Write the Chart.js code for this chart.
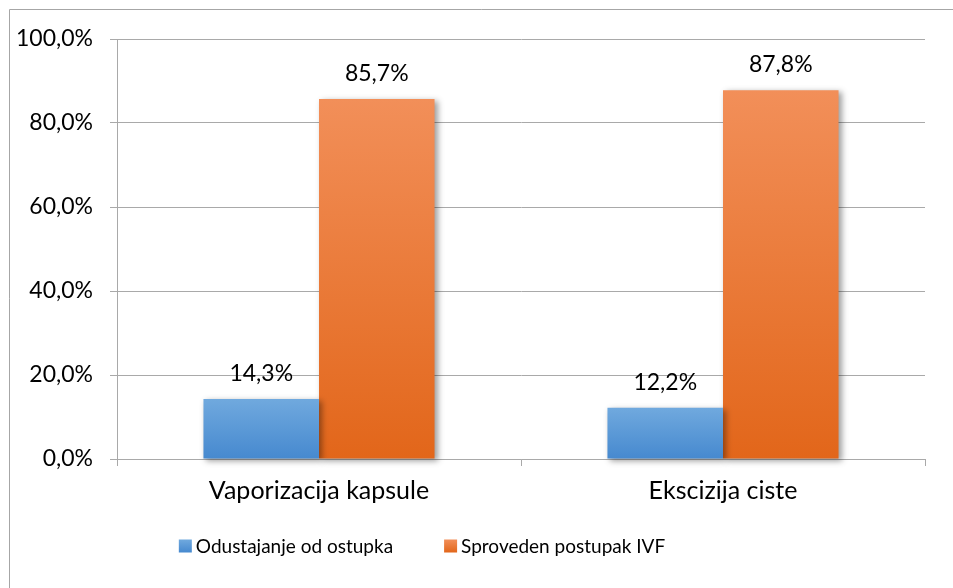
<!DOCTYPE html>
<html>
<head>
<meta charset="utf-8">
<script src="https://cdn.jsdelivr.net/npm/chart.js@4.4.1/dist/chart.umd.min.js"></script>
<style>
  html, body { margin: 0; padding: 0; background: #fff; }
  canvas { display: block; }
</style>
</head>
<body>
<canvas id="ivf-chart" width="953" height="588"></canvas>
<script>
const categories = ['Vaporizacija kapsule', 'Ekscizija ciste'];
const seriesNames = ['Odustajanje od ostupka', 'Sproveden postupak IVF'];
const odustajanje = [14.3, 12.2];
const sproveden = [85.7, 87.8];
const yMin = 0, yMax = 100, yStep = 20;

// light (top) -> dark (bottom) per series
const fills = [
  ['#70a9de', '#4689cf'],
  ['#f28f59', '#e2661a']
];

const FONT = 'Lato, "Open Sans", sans-serif';
const TEXT = '#000000';
const LINE = '#a9a9a9';

function fmt(v) {
  return v.toFixed(1).replace('.', ',') + '%';
}

// vertical gradient spanning each bar from its top down to the baseline
function barFill(i) {
  return function (ctx) {
    const chart = ctx.chart;
    if (!chart.chartArea || ctx.type !== 'data') return fills[i][1];
    const y = chart.scales.y;
    const top = y.getPixelForValue(ctx.raw);
    const base = y.getPixelForValue(0);
    const g = chart.ctx.createLinearGradient(0, top, 0, base);
    g.addColorStop(0, fills[i][0]);
    g.addColorStop(1, fills[i][1]);
    return g;
  };
}

const frame = {
  id: 'frame',
  beforeDraw(chart) {
    const c = chart.ctx;
    c.save();
    c.strokeStyle = '#a6a6a6';
    c.lineWidth = 1;
    c.beginPath();
    c.moveTo(9.5, chart.height);
    c.lineTo(9.5, 9.5);
    c.lineTo(chart.width, 9.5);
    c.stroke();
    c.restore();
  }
};

const barShadow = {
  id: 'barShadow',
  beforeDatasetsDraw(chart) {
    const c = chart.ctx;
    c.save();
    c.shadowColor = 'rgba(0,0,0,0.38)';
    c.shadowBlur = 6;
    c.shadowOffsetX = 3;
    c.shadowOffsetY = 2;
  },
  afterDatasetsDraw(chart) {
    chart.ctx.restore();
  }
};

const valueLabels = {
  id: 'valueLabels',
  afterDraw(chart) {
    const c = chart.ctx;
    c.save();
    c.font = '23px ' + FONT;
    c.fillStyle = TEXT;
    c.textAlign = 'center';
    c.textBaseline = 'alphabetic';
    chart.data.datasets.forEach((ds, di) => {
      chart.getDatasetMeta(di).data.forEach((bar, i) => {
        c.fillText(fmt(ds.data[i]), bar.x, bar.y - 18);
      });
    });
    c.restore();
  }
};

const legendRow = {
  id: 'legendRow',
  afterDraw(chart) {
    const c = chart.ctx;
    const box = 13, gap = 4, spacing = 51, cx = 422, cy = 546;
    c.save();
    c.font = '19px ' + FONT;
    c.textBaseline = 'middle';
    c.textAlign = 'left';
    const widths = chart.data.datasets.map(ds => c.measureText(ds.label).width);
    const total = widths.reduce((a, w) => a + box + gap + w, 0) + spacing * (widths.length - 1);
    let x = cx - total / 2;
    chart.data.datasets.forEach((ds, i) => {
      const g = c.createLinearGradient(0, cy - box / 2, 0, cy + box / 2);
      g.addColorStop(0, fills[i][0]);
      g.addColorStop(1, fills[i][1]);
      c.fillStyle = g;
      c.fillRect(x, cy - box / 2, box, box);
      c.fillStyle = TEXT;
      c.fillText(ds.label, x + box + gap, cy + 1);
      x += box + gap + widths[i] + spacing;
    });
    c.restore();
  }
};

new Chart(document.getElementById('ivf-chart'), {
  type: 'bar',
  data: {
    labels: categories,
    datasets: [
      {
        label: seriesNames[0],
        data: odustajanje,
        backgroundColor: barFill(0),
        clip: false
      },
      {
        label: seriesNames[1],
        data: sproveden,
        backgroundColor: barFill(1),
        clip: false
      }
    ]
  },
  options: {
    responsive: false,
    animation: false,
    layout: {
      padding: { left: 0, top: 39, right: 28, bottom: 0 }
    },
    datasets: {
      bar: { categoryPercentage: 0.572, barPercentage: 1.0 }
    },
    plugins: {
      legend: { display: false },
      tooltip: { enabled: false }
    },
    scales: {
      x: {
        afterFit(scale) { scale.height = 129; },
        grid: {
          offset: true,
          drawOnChartArea: false,
          drawTicks: true,
          tickLength: 7,
          color: LINE
        },
        border: { color: LINE, width: 1 },
        ticks: {
          padding: 10,
          color: TEXT,
          font: { family: FONT, size: 25 }
        }
      },
      y: {
        min: yMin,
        max: yMax,
        afterFit(scale) { scale.width = 117; },
        grid: {
          color: LINE,
          lineWidth: 1,
          drawTicks: true,
          tickLength: 7
        },
        border: { color: LINE, width: 1 },
        ticks: {
          stepSize: yStep,
          padding: 17,
          color: TEXT,
          font: { family: FONT, size: 23 },
          callback: v => fmt(v)
        }
      }
    }
  },
  plugins: [frame, barShadow, valueLabels, legendRow]
});
</script>
</body>
</html>
